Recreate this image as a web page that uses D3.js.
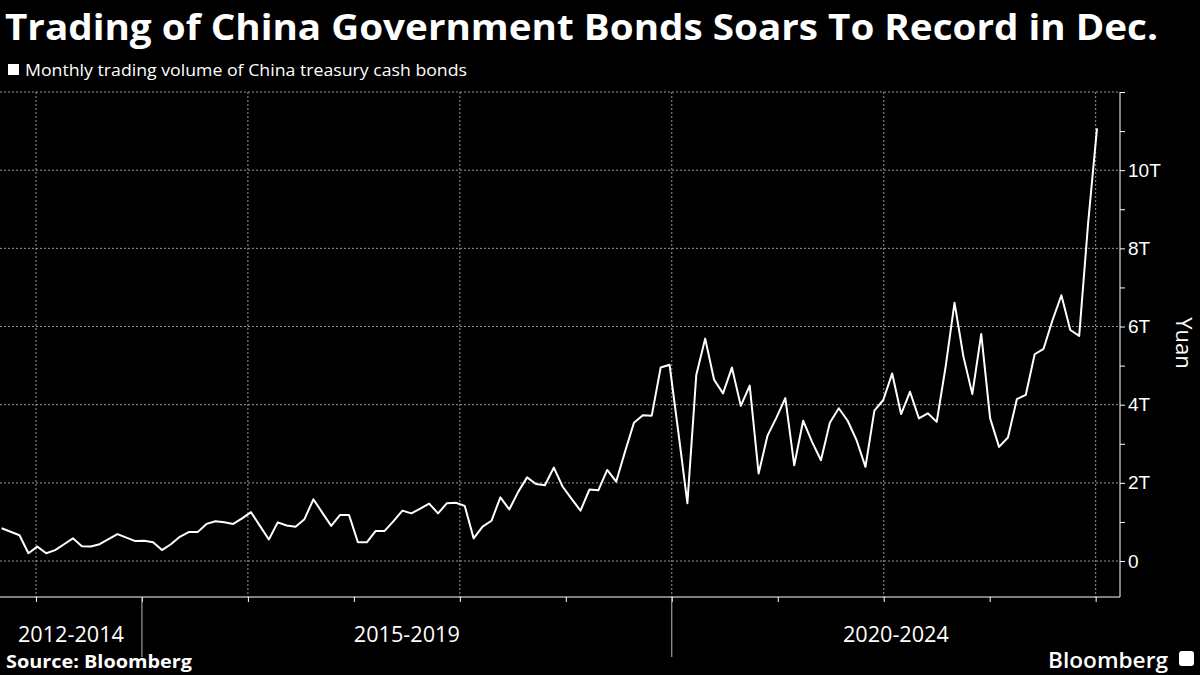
<!DOCTYPE html>
<html>
<head>
<meta charset="utf-8">
<script src="https://cdn.jsdelivr.net/npm/d3@7"></script>
<style>
  body { margin: 0; background: #000; }
  svg { display: block; font-family: "Open Sans", "Noto Sans", sans-serif; }
</style>
</head>
<body>
<svg id="chart" width="1200" height="675"></svg>
<script>
// monthly trading volume, trillion yuan
const volumes = [
  0.84, 0.75, 0.66, 0.20, 0.37, 0.20, 0.28, 0.43, 0.58, 0.38, 0.37, 0.43, 0.56, 0.69, 0.60, 0.51,
  0.52, 0.48, 0.28, 0.43, 0.62, 0.74, 0.74, 0.95, 1.02, 0.99, 0.95, 1.09, 1.25, 0.90, 0.55, 0.99,
  0.91, 0.88, 1.07, 1.58, 1.24, 0.90, 1.18, 1.18, 0.48, 0.48, 0.77, 0.77, 1.02, 1.29, 1.22, 1.34,
  1.47, 1.22, 1.48, 1.49, 1.41, 0.58, 0.88, 1.03, 1.63, 1.32, 1.77, 2.14, 1.97, 1.94, 2.39, 1.90,
  1.59, 1.29, 1.83, 1.81, 2.33, 2.03, 2.80, 3.54, 3.73, 3.72, 4.95, 5.02, 3.27, 1.48, 4.76, 5.69,
  4.64, 4.29, 4.95, 3.97, 4.49, 2.24, 3.21, 3.67, 4.17, 2.45, 3.59, 3.05, 2.58, 3.54, 3.91, 3.59,
  3.09, 2.41, 3.85, 4.12, 4.80, 3.76, 4.33, 3.65, 3.78, 3.56, 4.97, 6.61, 5.23, 4.27, 5.81, 3.65,
  2.92, 3.16, 4.14, 4.25, 5.29, 5.43, 6.16, 6.80, 5.91, 5.76, 8.64, 11.07
];
const yTicks = [0, 2, 4, 6, 8, 10, 12];
const yMinorTicks = [1, 3, 5, 7, 9, 11];
// positions in point-index units (year boundaries)
const xGridMonths = [3.85, 27.65, 51.45, 75.25, 99.05, 122.85];
const xTickMonths = [3.85, 15.75, 27.65, 39.55, 51.45, 63.35, 75.25, 87.15, 99.05, 110.95, 122.85];
const periodBreaks = [15.75, 75.25];
const periodLabels = ["2012-2014", "2015-2019", "2020-2024"];

const svg = d3.select('#chart');
const plotLeft = 0, plotRight = 1120, plotTop = 92, plotBottom = 597;

const x = d3.scaleLinear().domain([0, volumes.length - 1]).range([1.7, 1097]);
const y = d3.scaleLinear().domain([-0.92, 12]).range([plotBottom, plotTop]);

svg.append('rect').attr('width', 1200).attr('height', 675).attr('fill', '#000');

// titles
svg.append('text').attr('x', 5).attr('y', 40).attr('fill', '#fff')
   .attr('font-size', 35).attr('font-weight', 'bold').attr('textLength', 1153)
   .attr('lengthAdjust', 'spacingAndGlyphs')
   .text('Trading of China Government Bonds Soars To Record in Dec.');
svg.append('rect').attr('x', 8).attr('y', 64).attr('width', 11).attr('height', 11).attr('fill', '#fff');
svg.append('text').attr('x', 25).attr('y', 76).attr('fill', '#fff').attr('font-size', 15.5)
   .attr('textLength', 442).attr('lengthAdjust', 'spacingAndGlyphs')
   .text('Monthly trading volume of China treasury cash bonds');

// grid
const grid = svg.append('g').attr('stroke', '#999').attr('stroke-width', 1).attr('stroke-dasharray', '2,2');
grid.selectAll('.hg').data(yTicks).enter().append('line')
    .attr('x1', plotLeft).attr('x2', plotRight).attr('y1', d => y(d)).attr('y2', d => y(d));
grid.selectAll('.vg').data(xGridMonths).enter().append('line')
    .attr('x1', d => x(d)).attr('x2', d => x(d)).attr('y1', plotTop).attr('y2', plotBottom);

// right axis
const yAxis = svg.append('g').attr('transform', `translate(${plotRight},0)`)
  .call(d3.axisRight(y).tickValues(yTicks.slice(0, 6)).tickSize(5).tickFormat(d => d + (d ? 'T' : '')));
yAxis.select('.domain').attr('stroke', '#fff').attr('d', `M0,${plotTop}V${plotBottom}`);
yAxis.selectAll('.tick line').attr('stroke', '#fff');
yAxis.selectAll('.tick text').attr('fill', '#fff').attr('font-size', 19).attr('x', 8);
svg.append('g').attr('transform', `translate(${plotRight},0)`)
  .call(d3.axisRight(y).tickValues(yMinorTicks.concat([12])).tickSize(5).tickFormat(''))
  .call(g => g.select('.domain').remove())
  .selectAll('line').attr('stroke', '#fff');
svg.append('text').attr('transform', 'translate(1176,343) rotate(90)').attr('text-anchor', 'middle')
   .attr('fill', '#fff').attr('font-size', 22).text('Yuan');

// bottom axis
const xAxis = svg.append('g').attr('transform', `translate(0,${plotBottom})`)
  .call(d3.axisBottom(x).tickValues(xTickMonths).tickSize(5).tickFormat(''));
xAxis.select('.domain').attr('stroke', '#fff').attr('d', `M${plotLeft},0H${plotRight}`);
xAxis.selectAll('line').attr('stroke', '#fff');
svg.selectAll('.brk').data(periodBreaks).enter().append('line')
   .attr('x1', d => x(d)).attr('x2', d => x(d)).attr('y1', plotBottom).attr('y2', 657)
   .attr('stroke', '#bbb');
const bounds = [plotLeft, ...periodBreaks.map(x), plotRight];
svg.selectAll('.plab').data(periodLabels).enter().append('text')
   .attr('x', (d, i) => (bounds[i] + bounds[i + 1]) / 2).attr('y', 642)
   .attr('text-anchor', 'middle').attr('fill', '#fff').attr('font-size', 21)
   .attr('textLength', 106).attr('lengthAdjust', 'spacingAndGlyphs').text(d => d);

// line
svg.append('path').datum(volumes)
   .attr('fill', 'none').attr('stroke', '#fff').attr('stroke-width', 2).attr('stroke-linejoin', 'round')
   .attr('d', d3.line().x((d, i) => x(i)).y(d => y(d)));

// footer
svg.append('text').attr('x', 6).attr('y', 668).attr('fill', '#fff').attr('font-size', 17)
   .attr('font-weight', 'bold').attr('textLength', 186).attr('lengthAdjust', 'spacingAndGlyphs')
   .text('Source: Bloomberg');
svg.append('text').attr('x', 1048).attr('y', 668).attr('fill', '#fff')
   .attr('font-size', 21).attr('font-weight', 600).attr('textLength', 120)
   .attr('lengthAdjust', 'spacingAndGlyphs').text('Bloomberg');
svg.append('rect').attr('x', 1179).attr('y', 651).attr('width', 15).attr('height', 15).attr('rx', 3).attr('fill', '#fff');
</script>
</body>
</html>
